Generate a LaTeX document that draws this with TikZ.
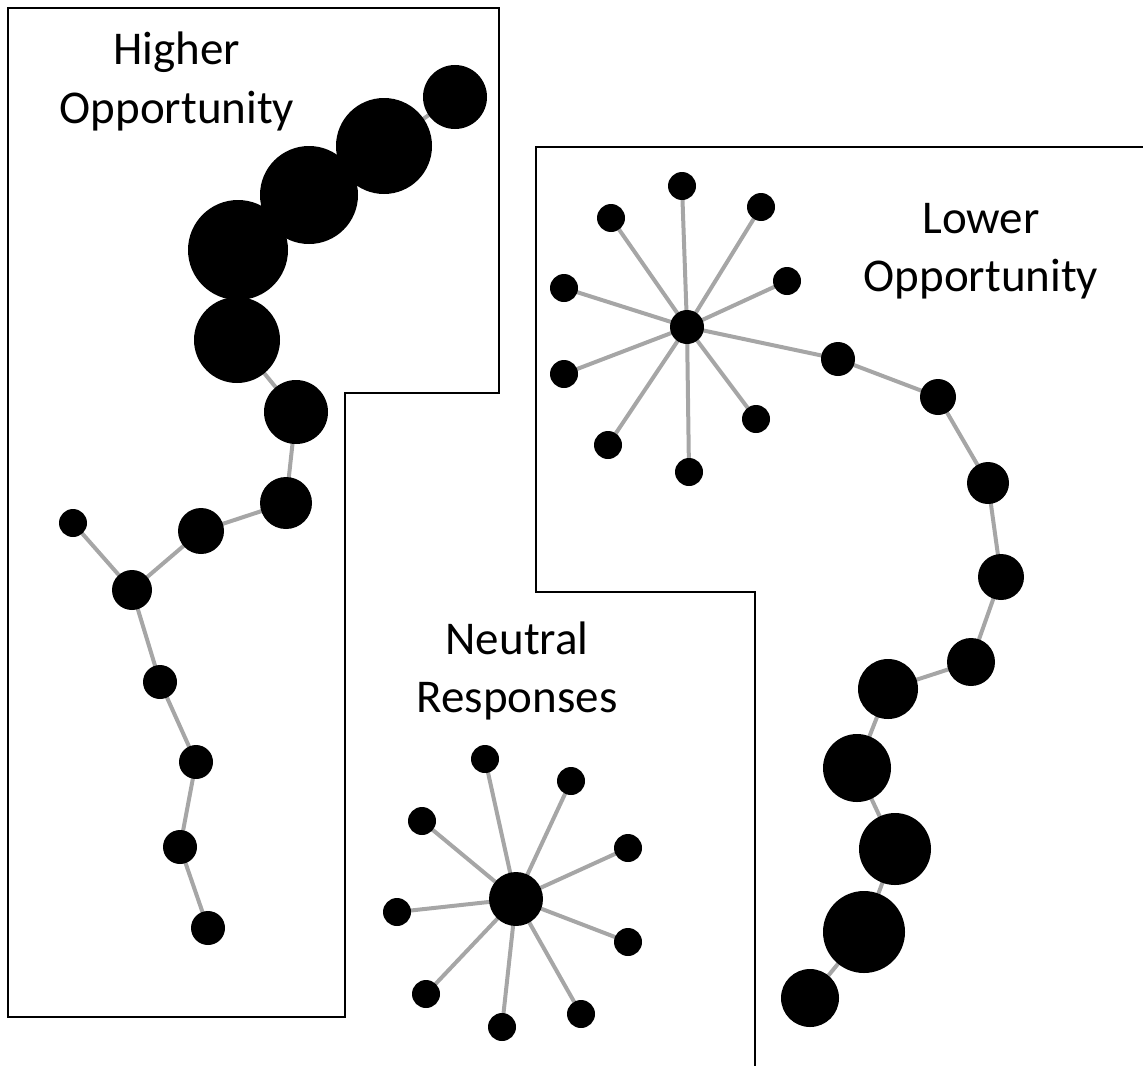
\documentclass[tikz,border=0pt]{standalone}
\usepackage{fontspec}
\setmainfont{Carlito}
\usetikzlibrary{backgrounds}
\definecolor{linkgray}{HTML}{A6A6A6}
\tikzset{
  bead/.style={circle, fill=black, draw=none, inner sep=0pt, minimum size=#1*1pt},
  link/.style={draw=linkgray, line width=2pt},
  region/.style={draw=black, line width=1.3pt},
  caption/.style={align=center, inner sep=0pt, font=\fontsize{23.5}{29}\selectfont}
}
\begin{document}
\begin{tikzpicture}[x=0.5pt, y=-0.5pt]
\useasboundingbox (0,0) rectangle (1143,1065);

% region outlines
\draw[region] (8,8) -- (499,8) -- (499,393) -- (345,393) -- (345,1017) -- (8,1017) -- cycle;
\draw[region] (1150,147) -- (536,147) -- (536,592) -- (755,592) -- (755,1070);

% labels (anchored on the baseline of the last line)
\node[caption, anchor=base] (lblhigh) at (177,123) {Higher\\Opportunity};
\node[caption, anchor=base] (lbllow) at (981,291) {Lower\\Opportunity};
\node[caption, anchor=base] (lblneu) at (517,712) {Neutral\\Responses};

% higher-opportunity chain
\node[bead=32] (h1) at (455,97) {};
\node[bead=48] (h2) at (384,146) {};
\node[bead=49] (h3) at (309,195) {};
\node[bead=50] (h4) at (238,250) {};
\node[bead=43] (h5) at (237,340) {};
\node[bead=32] (h6) at (296,412) {};
\node[bead=26] (h7) at (286,503) {};
\node[bead=23] (h8) at (201,531) {};
\node[bead=20] (h9) at (132,590) {};
\node[bead=14] (h10) at (73,523) {};
\node[bead=17] (h11) at (160,682) {};
\node[bead=17] (h12) at (196,762) {};
\node[bead=17] (h13) at (180,847) {};
\node[bead=17] (h14) at (208,928) {};

% lower-opportunity star and chain
\node[bead=17] (l0) at (687,327) {};
\node[bead=14] (la) at (682,186) {};
\node[bead=14] (lb) at (611,218) {};
\node[bead=14] (lc) at (761,207) {};
\node[bead=14] (ld) at (787,281) {};
\node[bead=14] (le) at (564,288) {};
\node[bead=14] (lf) at (564,374) {};
\node[bead=14] (lg) at (608,445) {};
\node[bead=14] (lh) at (689,472) {};
\node[bead=14] (li) at (756,419) {};
\node[bead=17] (l1) at (838,359) {};
\node[bead=18] (l2) at (938,397) {};
\node[bead=21] (l3) at (988,483) {};
\node[bead=23] (l4) at (1001,577) {};
\node[bead=24] (l5) at (971,662) {};
\node[bead=30] (l6) at (888,689) {};
\node[bead=34] (l7) at (857,768) {};
\node[bead=36] (l8) at (895,849) {};
\node[bead=41] (l9) at (864,932) {};
\node[bead=29] (l10) at (810,998) {};

% neutral star
\node[bead=27] (n0) at (516,899) {};
\node[bead=14] (na) at (485,759) {};
\node[bead=14] (nb) at (571,781) {};
\node[bead=14] (nc) at (422,821) {};
\node[bead=14] (nd) at (628,848) {};
\node[bead=14] (ne) at (397,912) {};
\node[bead=14] (nf) at (628,942) {};
\node[bead=14] (ng) at (426,994) {};
\node[bead=14] (nh) at (502,1027) {};
\node[bead=14] (ni) at (581,1014) {};

\begin{scope}[on background layer]
  \foreach \a/\b in {h1/h2,h2/h3,h3/h4,h4/h5,h5/h6,h6/h7,h7/h8,h8/h9,h9/h10,h9/h11,h11/h12,h12/h13,h13/h14}
    \draw[link] (\a.center) -- (\b.center);
  \foreach \b in {la,lb,lc,ld,le,lf,lg,lh,li,l1}
    \draw[link] (l0.center) -- (\b.center);
  \foreach \a/\b in {l1/l2,l2/l3,l3/l4,l4/l5,l5/l6,l6/l7,l7/l8,l8/l9,l9/l10}
    \draw[link] (\a.center) -- (\b.center);
  \foreach \b in {na,nb,nc,nd,ne,nf,ng,nh,ni}
    \draw[link] (n0.center) -- (\b.center);
\end{scope}
\end{tikzpicture}
\end{document}
